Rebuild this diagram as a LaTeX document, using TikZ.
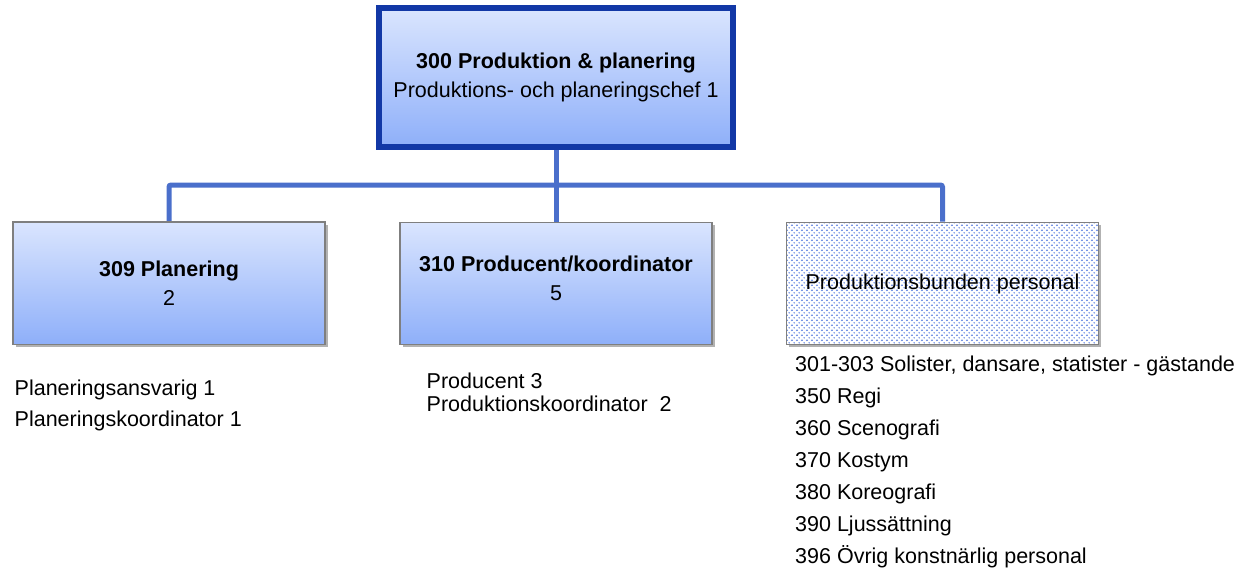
\documentclass[tikz,border=0pt]{standalone}
\usepackage{fontspec}
\setmainfont{Liberation Sans}
\usetikzlibrary{patterns.meta,shadows,backgrounds}
\definecolor{conn}{HTML}{4A6FCB}
\definecolor{topborder}{HTML}{1238A6}
\definecolor{gtop}{HTML}{DAE5FE}
\definecolor{gbot}{HTML}{8EAFF9}
\definecolor{dotc}{HTML}{6A8BE4}
\definecolor{boxline}{HTML}{7F7F7F}
\tikzdeclarepattern{
  name=bluedots,
  type=colored,
  bottom left={(0pt,0pt)},
  top right={(5.4pt,5.4pt)},
  tile size={(5.4pt,5.4pt)},
  code={\fill[dotc] (1.35pt,1.35pt) circle (0.85pt); \fill[dotc] (4.05pt,4.05pt) circle (0.85pt);}
}
\tikzset{
  txt/.style={font=\fontsize{21.5}{29}\selectfont},
  box/.style={txt, draw=boxline, line width=1.2pt, minimum width=312pt, minimum height=122.5pt,
    inner sep=0pt, align=center,
    drop shadow={shadow xshift=2.5pt, shadow yshift=-2.5pt, opacity=0.3, fill=black}},
  gradbox/.style={box, top color=gtop, bottom color=gbot},
  topbox/.style={gradbox, draw=topborder, line width=6pt, minimum width=354pt, minimum height=139pt},
  dotbox/.style={box, preaction={fill=white}, pattern=bluedots},
  link/.style={draw=conn, line width=5pt, rounded corners=2pt},
  listtxt/.style={anchor=base west, inner sep=0pt, align=left, font=\fontsize{21.5}{#1}\selectfont}
}
\begin{document}
\begin{tikzpicture}[x=1pt,y=-1pt]
\useasboundingbox (0,0) rectangle (1245,570);
\node[topbox] (top) at (556,77.5) {\textbf{300 Produktion \& planering}\\Produktions- och planeringschef 1};
\node[gradbox] (plan) at (169,283.3) {\textbf{309 Planering}\\2};
\node[gradbox] (prod) at (556,283.5) {\textbf{310 Producent/koordinator}\\5\\[-19pt]\mbox{}};
\node[dotbox] (pers) at (942.5,283.5) {Produktionsbunden personal};
\coordinate (hub) at (556,185);
\begin{scope}[on background layer]
\draw[link] (top.south) -- (prod.north);
\draw[link] (plan.north) |- (hub) -| (pers.north);
\end{scope}
% base anchor of a multi-line node is the baseline of its last line
\node[listtxt=31] (planlist) at (14.5,426) {Planeringsansvarig 1\\Planeringskoordinator 1};
\node[listtxt=23.3] (prodlist) at (426.5,411.6) {Producent 3\\Produktionskoordinator\ \ 2};
\node[listtxt=32] (perslist) at (795,563.8) {301-303 Solister, dansare, statister - gästande\\350 Regi\\360 Scenografi\\370 Kostym\\380 Koreografi\\390 Ljussättning\\396 Övrig konstnärlig personal};
\end{tikzpicture}
\end{document}
